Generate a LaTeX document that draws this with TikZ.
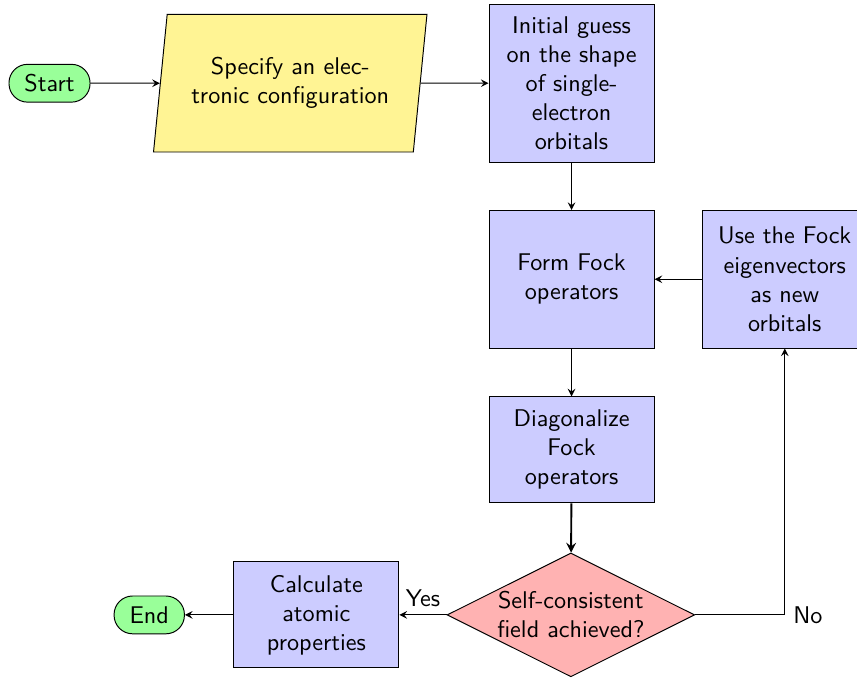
\documentclass[tikz,border=0pt]{standalone}
\usepackage{tikz}
\usetikzlibrary{shapes.geometric}
\usetikzlibrary{arrows}
\usetikzlibrary{positioning}

\definecolor{ioyellow}{RGB}{255,244,148}

\begin{document}
\begin{tikzpicture}[font=\sffamily]
    \tikzstyle{startstop}=[rectangle,rounded corners=0.27cm,draw=black,fill=green!40,minimum height=0.55cm,inner xsep=6.4pt]
    \tikzstyle{io}=[trapezium,trapezium left angle=80,trapezium right angle=100,trapezium stretches=true,draw=black,fill=ioyellow,minimum height=2cm,minimum width=4cm,align=center]
    \tikzstyle{process}=[rectangle,draw=black,fill=blue!20,minimum width=2.4cm,align=center]
    \tikzstyle{decision}=[diamond,aspect=2,draw=black,fill=red!30,minimum width=3.6cm,minimum height=1.8cm,align=center,inner sep=0pt]
    \tikzstyle{arrow}=[-stealth]

   \useasboundingbox (0,0) rectangle (12.46,-9.87);

   \node[startstop] (start) at (0.72,-1.21) {Start};
   \node[io] (spec) at (4.22,-1.21) {Specify an elec-\\tronic configuration};
   \node[process,minimum height=2.3cm] (guess) at (8.31,-1.21)
     {Initial guess\\on the shape\\of single-\\electron\\orbitals};
   \node[process,minimum height=2cm] (fock) at (8.31,-4.06) {Form Fock\\operators};
   \node[process,minimum height=2cm] (newor) at (11.41,-4.06)
     {Use the Fock\\eigenvectors\\as new\\orbitals};
   \node[process,minimum height=1.54cm] (diag) at (8.31,-6.54) {Diagonalize\\Fock\\operators};
   \node[decision] (scf) at (8.30,-8.94) {Self-consistent\\field achieved?};
   \node[process,minimum height=1.54cm] (calc) at (4.60,-8.94) {Calculate\\atomic\\properties};
   \node[startstop] (stop) at (2.17,-8.94) {End};

   \draw[arrow] (start) -- (spec);
   \draw[arrow] (spec) -- (guess);
   \draw[arrow] (guess) -- (fock);
   \draw[arrow] (fock) -- (diag);
   \draw[arrow,thick] (diag) -- (scf);
   \draw[arrow] (scf) -- node[above] {Yes} (calc);
   \draw[arrow] (calc) -- (stop);
   \draw[arrow] (scf.east) -| node[pos=0.5,right] {No} (newor.south);
   \draw[arrow] (newor) -- (fock);

\end{tikzpicture}
\end{document}
